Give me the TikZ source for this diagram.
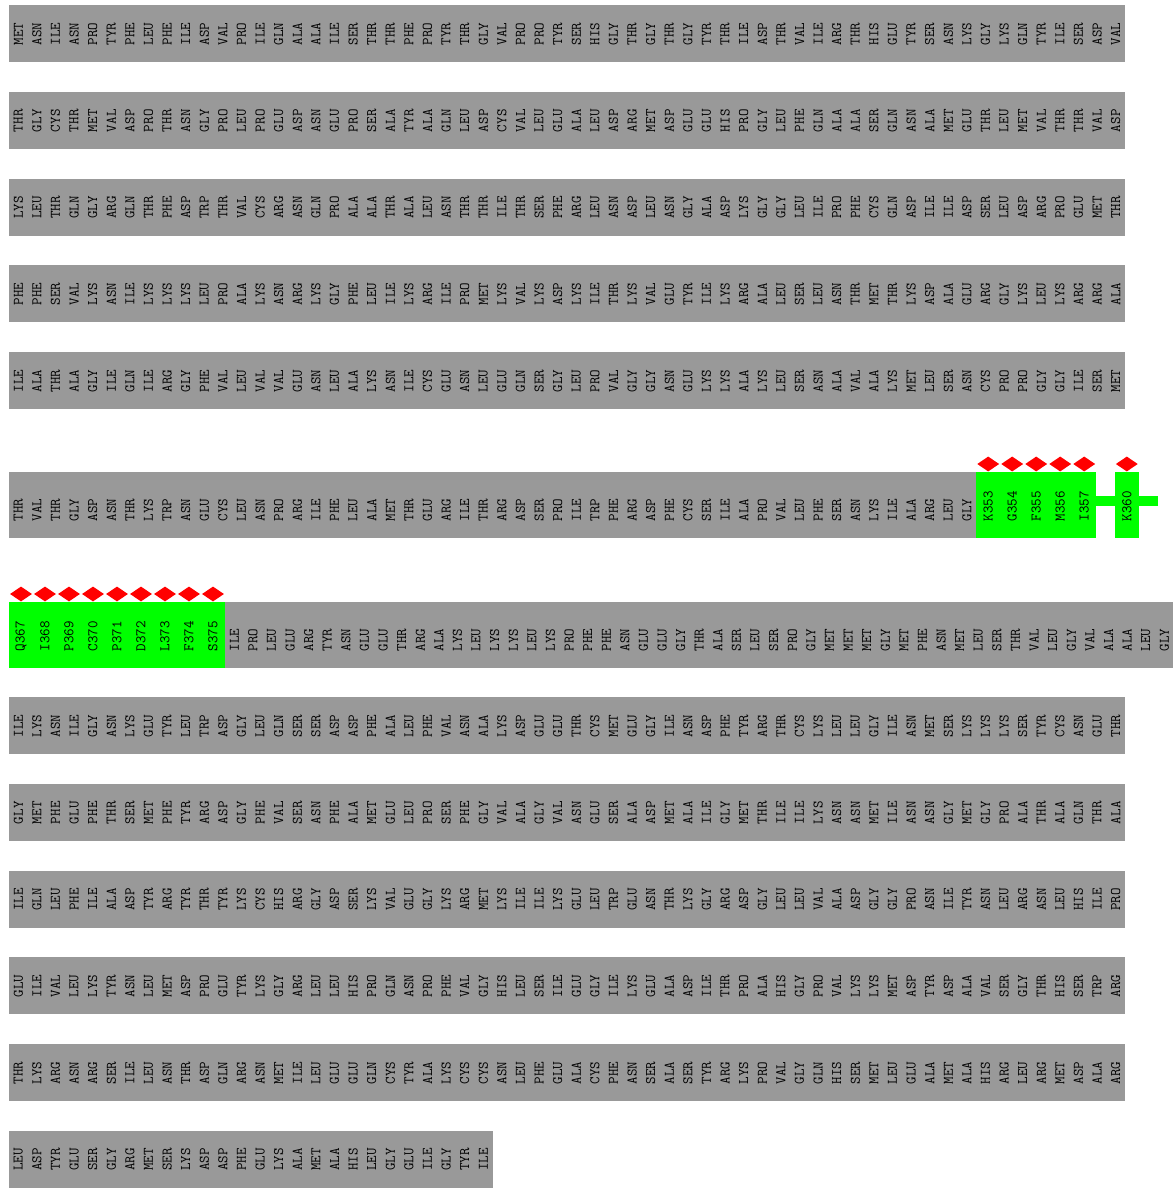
\documentclass[tikz,border=0pt]{standalone}
\usepackage{fontspec}
\definecolor{seqGrey} {RGB}{153,153,153}
\definecolor{seqGreen}{RGB}{  0,255,  0}
\definecolor{seqRed}  {RGB}{255,  0,  0}
\usepackage{tikz}
\usetikzlibrary{
  shapes.geometric,
}
\def\cw{18.6}
% #1 name prefix, #2 left x, #3 text start y, #4 residues
\newcommand\resrow[4]{%
  \foreach \aa [count=\k] in {#4}
    \node[res] (#1\k) at ({#2+(\k-0.5)*\cw},#3) {\aa};}

\begin{document}
\begin{tikzpicture}[
  x=1pt, y=-1pt,
  font=\ttfamily\fontsize{14.6}{15}\selectfont,
  band/.style={fill=seqGrey, anchor=north west, inner sep=0pt, minimum height=57pt},
  res/.style={rotate=90, anchor=west, inner sep=0pt, text=black},
  hl/.style={fill=seqGreen, anchor=north west, inner sep=0pt, minimum width=24pt, minimum height=66pt},
  sitemark/.style={diamond, fill=seqRed, inner sep=0pt, minimum width=22pt, minimum height=15pt},
]
  \useasboundingbox (0,0) rectangle (1172,1188);

  % Rows 1-5
  \node[band, minimum width=1116pt] (row1) at (9,5) {};
  \resrow{a}{9}{45.5}{MET,ASN,ILE,ASN,PRO,TYR,PHE,LEU,PHE,ILE,ASP,VAL,PRO,ILE,GLN,ALA,ALA,ILE,SER,THR,THR,PHE,PRO,TYR,THR,GLY,VAL,PRO,PRO,TYR,SER,HIS,GLY,THR,GLY,THR,GLY,TYR,THR,ILE,ASP,THR,VAL,ILE,ARG,THR,HIS,GLU,TYR,SER,ASN,LYS,GLY,LYS,GLN,TYR,ILE,SER,ASP,VAL}

  \node[band, minimum width=1116pt] (row2) at (9,91.7) {};
  \resrow{b}{9}{132.2}{THR,GLY,CYS,THR,MET,VAL,ASP,PRO,THR,ASN,GLY,PRO,LEU,PRO,GLU,ASP,ASN,GLU,PRO,SER,ALA,TYR,ALA,GLN,LEU,ASP,CYS,VAL,LEU,GLU,ALA,LEU,ASP,ARG,MET,ASP,GLU,GLU,HIS,PRO,GLY,LEU,PHE,GLN,ALA,ALA,SER,GLN,ASN,ALA,MET,GLU,THR,LEU,MET,VAL,THR,THR,VAL,ASP}

  \node[band, minimum width=1116pt] (row3) at (9,178.4) {};
  \resrow{c}{9}{218.9}{LYS,LEU,THR,GLN,GLY,ARG,GLN,THR,PHE,ASP,TRP,THR,VAL,CYS,ARG,ASN,GLN,PRO,ALA,ALA,THR,ALA,LEU,ASN,THR,THR,ILE,THR,SER,PHE,ARG,LEU,ASN,ASP,LEU,ASN,GLY,ALA,ASP,LYS,GLY,GLY,LEU,ILE,PRO,PHE,CYS,GLN,ASP,ILE,ILE,ASP,SER,LEU,ASP,ARG,PRO,GLU,MET,THR}

  \node[band, minimum width=1116pt] (row4) at (9,265.1) {};
  \resrow{d}{9}{305.6}{PHE,PHE,SER,VAL,LYS,ASN,ILE,LYS,LYS,LYS,LEU,PRO,ALA,LYS,ASN,ARG,LYS,GLY,PHE,LEU,ILE,LYS,ARG,ILE,PRO,MET,LYS,VAL,LYS,ASP,LYS,ILE,THR,LYS,VAL,GLU,TYR,ILE,LYS,ARG,ALA,LEU,SER,LEU,ASN,THR,MET,THR,LYS,ASP,ALA,GLU,ARG,GLY,LYS,LEU,LYS,ARG,ARG,ALA}

  \node[band, minimum width=1116pt] (row5) at (9,351.8) {};
  \resrow{e}{9}{392.3}{ILE,ALA,THR,ALA,GLY,ILE,GLN,ILE,ARG,GLY,PHE,VAL,LEU,VAL,VAL,GLU,ASN,LEU,ALA,LYS,ASN,ILE,CYS,GLU,ASN,LEU,GLU,GLN,SER,GLY,LEU,PRO,VAL,GLY,GLY,ASN,GLU,LYS,LYS,ALA,LYS,LEU,SER,ASN,ALA,VAL,ALA,LYS,MET,LEU,SER,ASN,CYS,PRO,PRO,GLY,GLY,ILE,SER,MET}

  % Row 6 with marked residues
  \node[band, minimum width=967.2pt, minimum height=66pt] (row6) at (9,472) {};
  \resrow{f}{9}{521.5}{THR,VAL,THR,GLY,ASP,ASN,THR,LYS,TRP,ASN,GLU,CYS,LEU,ASN,PRO,ARG,ILE,PHE,LEU,ALA,MET,THR,GLU,ARG,ILE,THR,ARG,ASP,SER,PRO,ILE,TRP,PHE,ARG,ASP,PHE,CYS,SER,ILE,ALA,PRO,VAL,LEU,PHE,SER,ASN,LYS,ILE,ALA,ARG,LEU,GLY}
  \node[fill=seqGreen, anchor=west, inner sep=0pt, minimum width=61.4pt, minimum height=10pt] (link) at (1096.2,501) {};
  \foreach \aa [count=\k] in {K353,G354,F355,M356,I357} {
    \node[hl] (hl\aa) at ({976.2+(\k-1)*24},472) {};
    \node[res] (t\aa) at ({988.2+(\k-1)*24},521.5) {\aa};
    \node[sitemark] (m\aa) at ({988.2+(\k-1)*24},464) {};
  }
  \node[hl] (hlK360) at (1114.8,472) {};
  \node[res] (tK360) at (1126.8,521.5) {K360};
  \node[sitemark] (mK360) at (1126.8,464) {};

  % Row 7
  \foreach \aa [count=\k] in {Q367,I368,P369,C370,P371,D372,L373,F374,S375} {
    \node[hl] (hl\aa) at ({9+(\k-1)*24},602) {};
    \node[res] (t\aa) at ({21+(\k-1)*24},651.5) {\aa};
    \node[sitemark] (m\aa) at ({21+(\k-1)*24},594) {};
  }
  \node[band, minimum width=948.6pt, minimum height=66pt] (row7) at (225,602) {};
  \resrow{g}{225}{651.5}{ILE,PRO,LEU,GLU,ARG,TYR,ASN,GLU,GLU,THR,ARG,ALA,LYS,LEU,LYS,LYS,LEU,LYS,PRO,PHE,PHE,ASN,GLU,GLU,GLY,THR,ALA,SER,LEU,SER,PRO,GLY,MET,MET,MET,GLY,MET,PHE,ASN,MET,LEU,SER,THR,VAL,LEU,GLY,VAL,ALA,ALA,LEU,GLY}

  % Rows 8-13
  \node[band, minimum width=1116pt] (row8) at (9,697) {};
  \resrow{h}{9}{737.5}{ILE,LYS,ASN,ILE,GLY,ASN,LYS,GLU,TYR,LEU,TRP,ASP,GLY,LEU,GLN,SER,SER,ASP,ASP,PHE,ALA,LEU,PHE,VAL,ASN,ALA,LYS,ASP,GLU,GLU,THR,CYS,MET,GLU,GLY,ILE,ASN,ASP,PHE,TYR,ARG,THR,CYS,LYS,LEU,LEU,GLY,ILE,ASN,MET,SER,LYS,LYS,LYS,SER,TYR,CYS,ASN,GLU,THR}

  \node[band, minimum width=1116pt] (row9) at (9,783.7) {};
  \resrow{i}{9}{824.2}{GLY,MET,PHE,GLU,PHE,THR,SER,MET,PHE,TYR,ARG,ASP,GLY,PHE,VAL,SER,ASN,PHE,ALA,MET,GLU,LEU,PRO,SER,PHE,GLY,VAL,ALA,GLY,VAL,ASN,GLU,SER,ALA,ASP,MET,ALA,ILE,GLY,MET,THR,ILE,ILE,LYS,ASN,ASN,MET,ILE,ASN,ASN,GLY,MET,GLY,PRO,ALA,THR,ALA,GLN,THR,ALA}

  \node[band, minimum width=1116pt] (row10) at (9,870.4) {};
  \resrow{j}{9}{910.9}{ILE,GLN,LEU,PHE,ILE,ALA,ASP,TYR,ARG,TYR,THR,TYR,LYS,CYS,HIS,ARG,GLY,ASP,SER,LYS,VAL,GLU,GLY,LYS,ARG,MET,LYS,ILE,ILE,LYS,GLU,LEU,TRP,GLU,ASN,THR,LYS,GLY,ARG,ASP,GLY,LEU,LEU,VAL,ALA,ASP,GLY,GLY,PRO,ASN,ILE,TYR,ASN,LEU,ARG,ASN,LEU,HIS,ILE,PRO}

  \node[band, minimum width=1116pt] (row11) at (9,957.1) {};
  \resrow{k}{9}{997.6}{GLU,ILE,VAL,LEU,LYS,TYR,ASN,LEU,MET,ASP,PRO,GLU,TYR,LYS,GLY,ARG,LEU,LEU,HIS,PRO,GLN,ASN,PRO,PHE,VAL,GLY,HIS,LEU,SER,ILE,GLU,GLY,ILE,LYS,GLU,ALA,ASP,ILE,THR,PRO,ALA,HIS,GLY,PRO,VAL,LYS,LYS,MET,ASP,TYR,ASP,ALA,VAL,SER,GLY,THR,HIS,SER,TRP,ARG}

  \node[band, minimum width=1116pt] (row12) at (9,1043.8) {};
  \resrow{l}{9}{1084.3}{THR,LYS,ARG,ASN,ARG,SER,ILE,LEU,ASN,THR,ASP,GLN,ARG,ASN,MET,ILE,LEU,GLU,GLU,GLN,CYS,TYR,ALA,LYS,CYS,CYS,ASN,LEU,PHE,GLU,ALA,CYS,PHE,ASN,SER,ALA,SER,TYR,ARG,LYS,PRO,VAL,GLY,GLN,HIS,SER,MET,LEU,GLU,ALA,MET,ALA,HIS,ARG,LEU,ARG,MET,ASP,ALA,ARG}

  \node[band, minimum width=483.6pt] (row13) at (9,1130.5) {};
  \resrow{m}{9}{1171}{LEU,ASP,TYR,GLU,SER,GLY,ARG,MET,SER,LYS,ASP,ASP,PHE,GLU,LYS,ALA,MET,ALA,HIS,LEU,GLY,GLU,ILE,GLY,TYR,ILE}
\end{tikzpicture}
\end{document}
